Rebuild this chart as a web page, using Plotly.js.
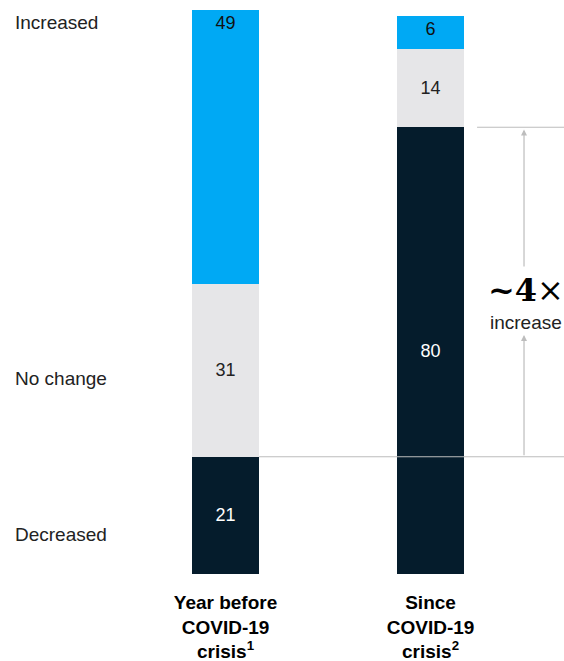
<!DOCTYPE html>
<html>
<head>
<meta charset="utf-8">
<script src="https://cdn.plot.ly/plotly-3.0.1.min.js"></script>
<style>html,body{margin:0;padding:0;background:#fff;}#chart{width:564px;height:661px;}</style>
</head>
<body>
<div id="chart"></div>
<script>
var categories = ["Year before<br>COVID-19<br>crisis<sup>1</sup>", "Since<br>COVID-19<br>crisis<sup>2</sup>"];
var decreased = [21, 80];
var noChange = [31, 14];
var increased = [49, 6];
var rowLabels = ["Increased", "No change", "Decreased"];

var FONT = "Liberation Sans, Arial, sans-serif";
var BAR_W = 0.327;

function trace(name, vals, color, txtColor, anchor) {
  return {
    type: "bar", name: name, x: categories, y: vals,
    marker: {color: color, line: {width: 0}},
    width: BAR_W,
    text: vals.map(String), textposition: "inside", insidetextanchor: anchor,
    textfont: {family: FONT, size: 18, color: txtColor},
    hoverinfo: "skip", cliponaxis: true
  };
}

var data = [
  trace("Decreased", decreased, "#051C2C", "#ffffff", "middle"),
  trace("No change", noChange, "#E6E6E8", "#222222", "middle"),
  trace("Increased", increased, "#00A9F4", "#111111", "end")
];

var arrowX = 1.456;
var layout = {
  width: 564, height: 661,
  margin: {l: 0, r: 0, t: 10, b: 87},
  paper_bgcolor: "#fff", plot_bgcolor: "#fff",
  barmode: "stack",
  showlegend: false,
  bargap: 0,
  xaxis: {
    type: "category", range: [-1.1, 1.651], showgrid: false, zeroline: false, showline: false,
    ticks: "", ticklabelstandoff: 15,
    tickfont: {family: FONT, size: 19, color: "#000", weight: 700}, fixedrange: true
  },
  yaxis: {range: [0, 101], visible: false, fixedrange: true},
  shapes: [
    {type: "line", xref: "x", yref: "y", x0: BAR_W / 2, x1: 1.651, y0: decreased[0], y1: decreased[0],
     line: {color: "#BDBDBD", width: 1.2}, layer: "above"},
    {type: "line", xref: "x", yref: "y", x0: 1.227, x1: 1.651, y0: decreased[1], y1: decreased[1],
     line: {color: "#BDBDBD", width: 1.2}, layer: "above"}
  ],
  annotations: [
    {xref: "paper", yref: "y", x: 0.023, y: 98.85, xanchor: "left", yanchor: "middle", showarrow: false,
     text: rowLabels[0], font: {family: FONT, size: 19, color: "#222"}},
    {xref: "paper", yref: "y", x: 0.023, y: 35.1, xanchor: "left", yanchor: "middle", showarrow: false,
     text: rowLabels[1], font: {family: FONT, size: 19, color: "#222"}},
    {xref: "paper", yref: "y", x: 0.023, y: 7.16, xanchor: "left", yanchor: "middle", showarrow: false,
     text: rowLabels[2], font: {family: FONT, size: 19, color: "#222"}},
    {xref: "x", yref: "y", axref: "x", ayref: "y", x: arrowX, y: decreased[1] - 0.4, ax: arrowX, ay: 54.8,
     showarrow: true, arrowhead: 2, arrowsize: 1, arrowwidth: 1.2, arrowcolor: "#BDBDBD", text: ""},
    {xref: "x", yref: "y", axref: "x", ayref: "y", x: arrowX, y: 42.8, ax: arrowX, ay: decreased[0],
     showarrow: true, arrowhead: 2, arrowsize: 1, arrowwidth: 1.2, arrowcolor: "#BDBDBD", text: ""},
    {xref: "x", yref: "y", x: 1.466, y: 50.9, xanchor: "center", yanchor: "middle", showarrow: false,
     text: "<b>~4</b>×", font: {family: "DejaVu Serif, Liberation Serif, serif", size: 32, color: "#000"}},
    {xref: "x", yref: "y", x: 1.466, y: 45.1, xanchor: "center", yanchor: "middle", showarrow: false,
     text: "increase", font: {family: FONT, size: 19, color: "#222"}}
  ]
};

Plotly.newPlot("chart", data, layout, {displayModeBar: false, staticPlot: true});
</script>
</body>
</html>
